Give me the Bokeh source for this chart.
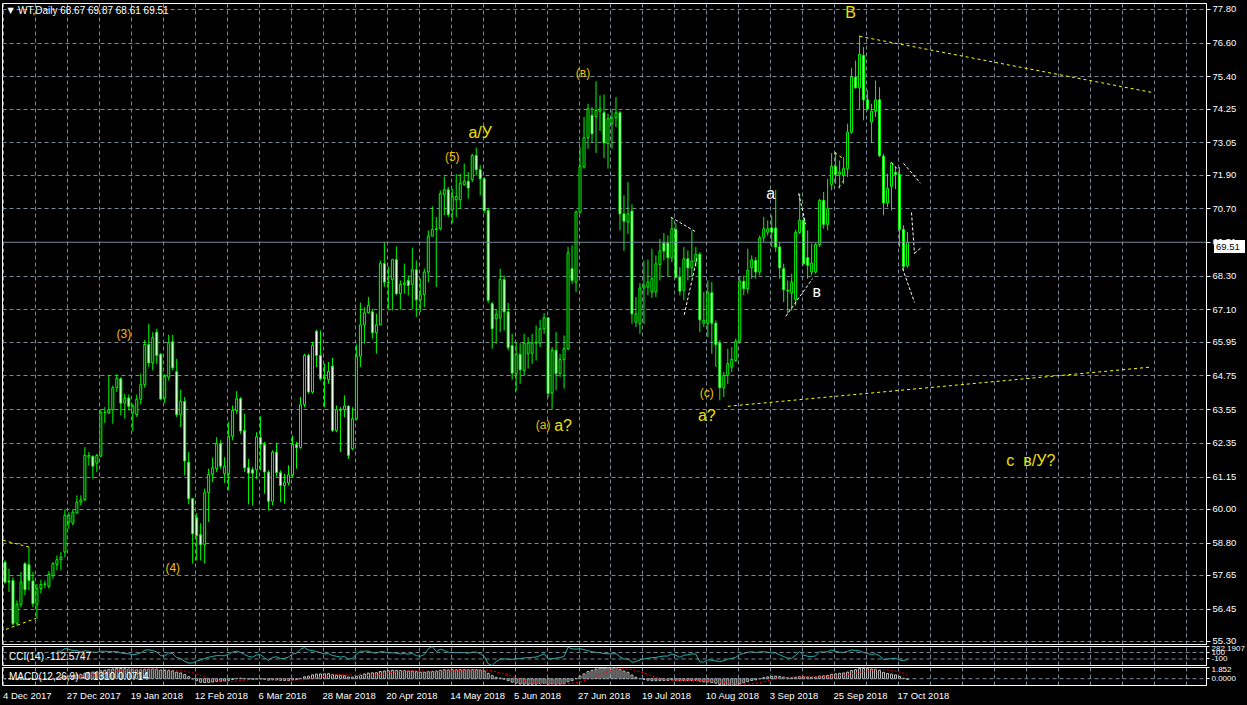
import numpy as np
from bokeh.plotting import figure
from bokeh.layouts import column
from bokeh.models import (Range1d, LinearAxis, FixedTicker, Grid, Span, Label,
                          NumeralTickFormatter, ColumnDataSource, Div)
from bokeh.embed import file_html
from bokeh.resources import INLINE
from bokeh.core.properties import value

# ---------------- data ----------------
opens = [58.12,57.45,57.47,55.95,56.62,58.07,58.03,57.45,56.62,57.18,
 57.33,57.26,57.65,58.04,58.21,58.48,59.55,59.51,59.87,60.26,
 60.34,61.86,61.89,61.65,61.90,63.44,63.43,63.55,64.33,64.65,
 63.78,63.97,63.43,63.37,63.92,64.44,65.87,65.21,66.31,65.52,
 63.96,64.71,65.97,64.90,63.37,63.84,61.68,60.38,59.70,59.10,
 58.74,60.59,61.25,61.45,62.34,61.27,61.27,62.60,63.52,63.94,
 62.81,61.48,61.41,61.41,62.55,62.31,61.32,60.29,62.04,61.31,
 60.85,60.94,61.23,62.31,62.20,63.73,65.48,64.18,66.34,65.48,
 64.69,64.62,65.10,62.81,63.55,63.55,63.68,62.16,63.23,65.45,
 66.57,67.00,67.03,66.29,66.57,68.75,68.09,68.18,68.89,67.68,
 68.01,68.15,68.01,68.53,67.46,67.64,68.45,69.73,69.96,69.99,
 71.21,71.38,70.67,71.02,71.02,71.56,71.68,71.74,72.60,72.09,
 71.77,70.64,67.32,66.79,66.82,68.18,67.03,65.83,64.83,65.52,
 64.95,65.54,65.56,65.92,65.92,66.43,66.82,64.14,65.66,64.83,
 65.33,65.72,68.57,68.09,70.58,72.19,73.23,74.03,73.99,74.18,
 74.12,73.02,73.73,73.94,74.12,70.52,70.23,70.62,66.67,66.61,
 67.88,67.92,67.74,67.74,68.72,69.48,69.48,68.96,69.96,68.27,
 67.80,68.92,68.60,68.81,69.08,66.63,66.61,67.71,66.63,65.92,
 64.33,64.77,65.07,65.30,65.99,68.12,67.86,68.60,68.86,68.45,
 69.67,69.87,70.02,70.02,69.34,68.57,67.80,67.70,67.46,69.86,
 70.29,68.96,68.45,68.45,69.43,71.00,70.15,71.57,72.21,71.93,
 71.89,72.13,73.43,75.39,75.01,76.16,74.58,73.79,74.18,74.58,
 72.57,70.91,71.50,72.00,71.93,69.96,68.67]
highs = [58.18,57.89,57.59,56.76,57.77,58.12,58.64,57.77,57.35,57.50,
 57.47,57.80,58.12,58.36,58.48,59.99,59.90,59.99,60.50,60.50,
 62.22,62.04,61.92,61.98,63.55,63.64,64.77,64.41,64.81,64.71,
 64.12,64.09,63.76,64.09,64.83,66.04,66.61,66.31,66.43,65.57,
 64.81,66.22,66.22,65.36,64.26,64.00,62.04,60.38,59.87,59.51,
 60.74,61.45,61.84,62.57,62.46,61.86,63.11,63.70,64.21,64.00,
 63.40,61.80,61.51,62.75,63.31,62.40,61.39,62.10,62.34,61.39,
 61.27,61.57,62.63,62.40,64.00,65.54,65.54,65.96,66.40,66.37,
 65.19,65.25,65.40,63.70,63.64,64.06,63.70,63.64,65.87,67.36,
 67.20,67.56,67.14,66.97,68.86,69.52,68.65,68.92,69.36,68.15,
 68.75,68.33,69.32,68.86,68.21,68.57,69.93,70.79,70.41,71.36,
 71.85,71.48,71.42,71.93,71.95,72.31,72.01,72.66,72.88,72.25,
 71.83,70.74,67.38,67.14,68.57,68.33,67.35,66.25,65.96,65.92,
 66.25,66.13,66.25,66.55,66.75,66.99,66.85,65.78,66.31,65.54,
 66.19,69.34,69.40,70.64,72.90,73.97,74.44,74.32,75.24,74.74,
 74.77,74.09,74.20,74.68,74.18,71.18,71.65,70.86,67.56,68.06,
 68.86,68.89,69.28,69.04,69.63,69.84,69.75,70.38,70.19,68.63,
 69.34,69.22,69.93,69.34,69.16,67.74,68.15,68.09,66.73,66.02,
 64.89,65.72,65.78,66.08,68.27,68.33,69.28,69.04,68.98,69.75,
 70.41,70.29,70.47,71.38,69.52,68.75,68.15,68.39,69.96,71.24,
 70.41,69.93,69.46,69.48,71.06,71.30,71.77,72.68,72.72,72.42,
 72.54,73.73,75.72,75.98,76.87,76.46,74.92,74.44,75.27,75.03,
 72.66,71.95,72.37,72.19,72.19,70.11,69.87]
lows = [57.35,57.06,55.87,55.87,56.52,56.94,57.12,56.52,56.11,57.00,
 57.20,57.18,57.53,57.83,57.83,58.30,59.31,59.43,59.85,60.14,
 60.30,61.57,61.09,61.33,61.86,63.07,63.40,63.05,64.18,63.35,
 63.23,63.52,62.78,63.29,63.74,64.33,65.07,64.95,65.18,63.88,
 63.78,64.59,64.95,63.29,62.93,61.21,60.18,58.07,58.18,58.18,
 58.07,59.55,60.97,61.33,61.45,60.94,60.68,62.46,63.40,62.69,
 61.33,60.18,60.14,61.09,61.39,60.56,59.96,60.14,61.17,60.26,
 60.20,60.85,61.15,61.45,62.16,63.64,64.12,64.12,65.07,64.59,
 63.64,64.47,62.75,62.75,62.04,63.29,61.80,62.10,63.17,65.07,
 65.90,66.97,66.08,65.54,66.55,67.92,67.14,67.08,67.62,67.11,
 67.68,67.62,67.14,66.85,67.03,67.20,68.09,69.72,67.92,69.93,
 70.47,70.41,70.19,70.41,70.70,71.53,71.06,71.65,71.89,71.18,
 70.55,67.35,65.72,65.90,66.31,66.37,65.66,64.62,64.21,64.47,
 64.77,65.01,65.18,65.30,65.78,66.25,64.00,63.58,64.24,64.71,
 64.30,65.66,68.03,67.74,70.53,72.13,72.84,73.08,72.69,73.47,
 72.51,72.13,72.84,73.61,69.93,69.20,69.81,66.61,66.49,66.25,
 66.59,67.62,67.53,67.56,68.15,68.86,68.27,68.80,68.21,67.62,
 67.44,68.15,68.27,68.63,66.31,66.49,66.13,65.54,65.07,63.88,
 64.00,64.47,64.89,65.25,65.90,67.62,67.68,68.21,68.21,68.33,
 69.52,69.75,69.34,69.16,68.21,67.38,66.97,67.08,67.26,69.81,
 68.69,68.21,68.33,68.39,69.34,69.99,69.93,71.36,71.59,71.42,
 71.59,71.83,73.37,74.98,74.26,73.85,74.20,73.04,73.97,72.54,
 70.47,70.76,70.64,71.40,69.34,68.48,68.61]
closes = [57.41,57.42,55.93,56.62,57.41,57.14,57.47,56.64,57.18,57.33,
 57.35,57.69,58.07,58.21,58.30,59.79,59.79,59.90,60.26,60.34,
 61.92,61.92,61.54,61.92,63.44,63.46,63.55,64.33,64.67,63.78,
 63.96,63.67,63.67,63.92,64.44,65.87,65.21,66.11,65.48,63.93,
 64.73,65.93,65.04,63.37,63.84,61.72,60.38,59.13,59.07,58.74,
 60.59,61.25,61.48,62.34,61.54,61.54,62.60,63.52,63.94,62.79,
 61.48,61.29,61.29,62.58,62.31,61.33,60.29,62.04,61.31,60.85,
 60.97,61.23,62.31,62.20,63.73,65.48,64.18,65.84,65.48,64.65,
 64.66,64.91,62.81,63.55,63.53,63.68,61.92,63.23,65.45,66.57,
 67.00,67.26,66.29,66.57,68.75,68.09,68.07,68.89,67.68,68.01,
 68.06,67.97,68.53,67.46,67.64,68.45,69.73,69.96,69.99,71.24,
 71.38,70.49,71.14,71.14,71.62,71.68,71.44,72.60,72.09,71.77,
 70.64,67.44,66.43,66.94,68.18,67.03,65.76,64.85,65.52,64.97,
 65.92,65.92,65.92,65.96,66.43,66.82,64.12,65.66,64.83,65.33,
 65.72,69.13,68.15,70.59,72.20,73.23,74.26,73.37,74.20,74.26,
 73.05,73.91,73.94,74.12,70.52,70.26,70.52,66.96,66.96,67.88,
 67.96,68.09,68.21,68.74,69.20,69.20,68.96,69.99,68.27,67.77,
 68.92,68.60,68.84,69.08,66.75,66.73,67.71,66.63,65.87,64.33,
 64.77,65.19,65.34,65.99,68.12,67.86,68.51,68.89,68.45,69.67,
 69.99,69.99,69.87,69.34,68.60,67.82,67.78,68.09,69.86,70.29,
 68.75,68.69,68.77,69.43,71.00,70.15,70.70,72.21,71.93,72.00,
 72.13,73.43,75.39,75.01,76.20,74.58,74.26,74.18,74.58,72.60,
 70.91,71.42,72.33,71.93,69.96,68.65,69.51]

date_labels = ["4 Dec 2017", "27 Dec 2017", "19 Jan 2018", "12 Feb 2018",
               "6 Mar 2018", "28 Mar 2018", "20 Apr 2018", "14 May 2018",
               "5 Jun 2018", "27 Jun 2018", "19 Jul 2018", "10 Aug 2018",
               "3 Sep 2018", "25 Sep 2018", "17 Oct 2018"]
date_label_bars = [0, 16, 32, 48, 64, 80, 96, 112, 128, 144, 160, 176, 192, 208, 224]
price_ticks = [55.30, 56.45, 57.65, 58.80, 60.00, 61.15, 62.35, 63.55, 64.75,
               65.95, 67.10, 68.30, 69.51, 70.70, 71.90, 73.05, 74.25, 75.40,
               76.60, 77.80]
last_price = 69.51
header_text = "WT,Daily  68.67 69.87 68.61 69.51"
cci_text = "CCI(14) -112.5747"
macd_text = "MACD(12,26,9) -0.1310 0.0714"

# wave labels (bar index, price)
small_text = ["(3)", "(4)", "(5)", "(в)", "(а)", "(с)"]
small_x = [29.75, 42.0, 112.0, 144.75, 134.75, 175.75]
small_y = [66.23, 57.90, 72.53, 75.52, 62.99, 64.13]
big_text = ["а/У", "а?", "а?", "В", "с", "в/У?"]
big_x = [119.0, 139.75, 175.75, 211.75, 251.75, 259.0]
big_y = [73.42, 62.99, 63.35, 77.68, 61.74, 61.74]
white_text = ["а", "в"]
white_x = [191.75, 203.25]
white_y = [71.25, 67.76]

# trend lines (bar index / price)
yl_x0 = [214.0, 181.0, -0.5, 0.25, 207.75, 208.75]
yl_y0 = [76.84, 63.67, 58.90, 55.73, 72.71, 71.46]
yl_x1 = [287.0, 286.5, 6.25, 7.75, 209.75, 210.0]
yl_y1 = [74.85, 65.06, 58.65, 56.12, 72.50, 71.71]
wl_x0 = [166.75, 173.25, 198.75, 195.5, 222.0, 225.0, 227.0, 227.75, 224.75]
wl_y0 = [70.40, 68.94, 71.25, 66.87, 72.35, 72.32, 70.57, 69.11, 68.58]
wl_x1 = [173.25, 170.0, 200.5, 202.25, 223.75, 229.25, 227.75, 229.5, 227.75]
wl_y1 = [69.86, 66.87, 70.15, 68.22, 72.07, 71.61, 69.11, 69.33, 67.37]

# ---------------- derived ----------------
O = np.array(opens); Hh = np.array(highs); Ll = np.array(lows); C = np.array(closes)
n = len(C)
idx = np.arange(n)
bull = C >= O

tp = (Hh + Ll + C) / 3.0
cci = np.full(n, np.nan)
for i in range(13, n):
    w = tp[i - 13:i + 1]
    m = w.mean()
    md = np.abs(w - m).mean()
    cci[i] = (tp[i] - m) / (0.015 * md)

def ema(x, per):
    a = 2.0 / (per + 1)
    out = np.empty_like(x)
    out[0] = x[0]
    for i in range(1, len(x)):
        out[i] = a * x[i] + (1 - a) * out[i - 1]
    return out

macd = ema(C, 12) - ema(C, 26)
sig = np.full(n, np.nan)
for i in range(8, n):
    sig[i] = macd[i - 8:i + 1].mean()

GRID = "#778899"
GREEN = "#00FF00"
FONT = value("Liberation Sans")
X0 = -0.625
X1 = X0 + 301.5
vgrid_ticks = [8 * k - 0.25 for k in range(0, 39)]

# approximate label widths (Liberation Sans em widths) to left-align date labels
EM = {"D": .722, "e": .556, "c": .5, "J": .5, "a": .556, "n": .556, "F": .611,
      "b": .556, "M": .833, "r": .333, "A": .667, "p": .556, "y": .5, "u": .556,
      "l": .222, "g": .556, "S": .667, "O": .778, "t": .278, " ": .278}
DATE_FS = 9.5
def text_w(s):
    return sum(EM.get(ch, .556) for ch in s) * DATE_FS
date_tick_pos = [b + (text_w(t) / 2 - 2) / 4 for b, t in zip(date_label_bars, date_labels)]

def base_fig(h, top, bottom, yr):
    f = figure(width=1247, height=h, x_range=Range1d(X0, X1), y_range=yr,
               x_axis_type=None, y_axis_type=None, toolbar_location=None,
               output_backend="svg", background_fill_color="black",
               border_fill_color="black", outline_line_color="white",
               outline_line_width=1, min_border_left=2, min_border_right=39,
               min_border_top=top, min_border_bottom=bottom)
    f.add_layout(Grid(dimension=0, ticker=FixedTicker(ticks=vgrid_ticks),
                      grid_line_color=GRID, grid_line_dash="4 3"))
    return f

def side_axis(ticks, overrides):
    return LinearAxis(ticker=FixedTicker(ticks=ticks), major_label_overrides=overrides,
                      axis_line_color="white", major_tick_line_color="white",
                      major_tick_out=3, major_tick_in=0, minor_tick_line_color=None,
                      major_label_text_color="white", major_label_text_font_size="8px",
                      major_label_text_font="Liberation Sans", major_label_standoff=2)

# ---------------- main price panel ----------------
p = base_fig(645, 3, 1, Range1d(55.19, 78.01))
p.add_layout(Grid(dimension=1, ticker=FixedTicker(ticks=[t for t in price_ticks if t != last_price]),
                  grid_line_color=GRID, grid_line_dash="4 3"))
yax = LinearAxis(ticker=FixedTicker(ticks=price_ticks),
                 formatter=NumeralTickFormatter(format="0.00"),
                 axis_line_color="white", major_tick_line_color="white",
                 major_tick_out=4, major_tick_in=0, minor_tick_line_color=None,
                 major_label_text_color="white", major_label_text_font_size="9.5px",
                 major_label_text_font="Liberation Sans", major_label_standoff=2)
p.add_layout(yax, "right")
p.add_layout(Span(location=last_price, dimension="width", line_color=GRID, line_width=1))

src = ColumnDataSource(dict(x=idx, o=O, h=Hh, l=Ll, c=C,
                            top=np.maximum(O, C), bot=np.minimum(O, C),
                            fill=np.where(bull, "black", "white")))
p.segment(x0="x", y0="l", x1="x", y1="h", source=src, line_color=GREEN, line_width=1)
p.vbar(x="x", width=0.5, top="top", bottom="bot", source=src,
       fill_color="fill", line_color=GREEN, line_width=1)

p.segment(x0=yl_x0, y0=yl_y0, x1=yl_x1, y1=yl_y1, line_color="#FFFF00",
          line_width=1, line_dash="3 3")
p.segment(x0=wl_x0, y0=wl_y0, x1=wl_x1, y1=wl_y1, line_color="white",
          line_width=1, line_dash="3 2")

p.text(x=small_x, y=small_y, text=small_text, text_color="#F0C000",
       text_font=FONT, text_font_size="12px", text_align="center",
       text_baseline="middle")
p.text(x=big_x, y=big_y, text=big_text, text_color="#F0E000",
       text_font=FONT, text_font_size="16px", text_align="center",
       text_baseline="middle")
p.text(x=white_x, y=white_y, text=white_text, text_color="white",
       text_font=FONT, text_font_size="16px", text_align="center",
       text_baseline="middle")

p.add_layout(Label(x=0.6, y=77.76, text="▼", text_color="white",
                   text_font_size="8px", text_font="DejaVu Sans",
                   text_baseline="middle", text_align="left"))
p.add_layout(Label(x=3.25, y=77.76, text=header_text, text_color="white",
                   text_font_size="10px", text_font="Liberation Sans",
                   text_baseline="middle", text_align="left"))

# ---------------- CCI panel ----------------
cmin, cmax = float(np.nanmin(cci)), float(np.nanmax(cci))
p2 = base_fig(21, 1, 1, Range1d(cmin, cmax))
for lv in (100, -100):
    p2.add_layout(Span(location=lv, dimension="width", line_color=GRID,
                       line_dash="4 3", line_width=1))
p2.line(idx, cci, line_color="#20B2AA", line_width=1)
p2.add_layout(Label(x=1.0, y=(cmin + cmax) / 2, text=cci_text,
                    text_color="white", text_font_size="10px",
                    text_font="Liberation Sans", text_baseline="middle",
                    text_align="left"))
p2.add_layout(side_axis([cmax, 100, -100],
                        {cmax: "%.4f" % cmax, 100: "100", -100: "-100"}), "right")

# ---------------- MACD panel ----------------
mmin = float(min(np.nanmin(macd), np.nanmin(sig)))
mmax = float(max(np.nanmax(macd), np.nanmax(sig)))
p3 = base_fig(39, 1, 20, Range1d(mmin, mmax))
p3.add_layout(Span(location=0, dimension="width", line_color=GRID,
                   line_dash="4 3", line_width=1))
p3.vbar(x=idx, width=0.5, top=macd, bottom=0, fill_color="black",
        line_color="#C0C0C0", line_width=1)
p3.line(idx, sig, line_color="red", line_width=1, line_dash="2 2")
p3.add_layout(Label(x=1.0, y=(mmin + mmax) / 2, text=macd_text,
                    text_color="white", text_font_size="10px",
                    text_font="Liberation Sans", text_baseline="middle",
                    text_align="left"))
p3.add_layout(side_axis([mmax, 0.0], {mmax: "%.3f" % mmax, 0.0: "0.0000"}), "right")
xax = LinearAxis(ticker=FixedTicker(ticks=date_tick_pos),
                 major_label_overrides={pos: t for pos, t in zip(date_tick_pos, date_labels)},
                 axis_line_color=None, major_tick_line_color=None,
                 major_tick_out=0, major_tick_in=0, minor_tick_line_color=None,
                 major_label_text_color="white", major_label_text_font_size="9.5px",
                 major_label_text_font="Liberation Sans", major_label_standoff=4)
p3.add_layout(xax, "below")

layout = column(p, p2, p3, spacing=0, styles={"background-color": "black"})

# current-price box on the price scale (positioned over the 69.51 tick label)
price_box = Div(text="69.51", width=31, height=13,
                styles={"position": "absolute", "left": "1209px", "top": "235px",
                        "background-color": "white", "color": "black",
                        "font-family": "Liberation Sans", "font-size": "9.5px",
                        "line-height": "13px", "padding-left": "2px",
                        "z-index": "10"})

open("out.html", "w").write(file_html([layout, price_box], INLINE))
